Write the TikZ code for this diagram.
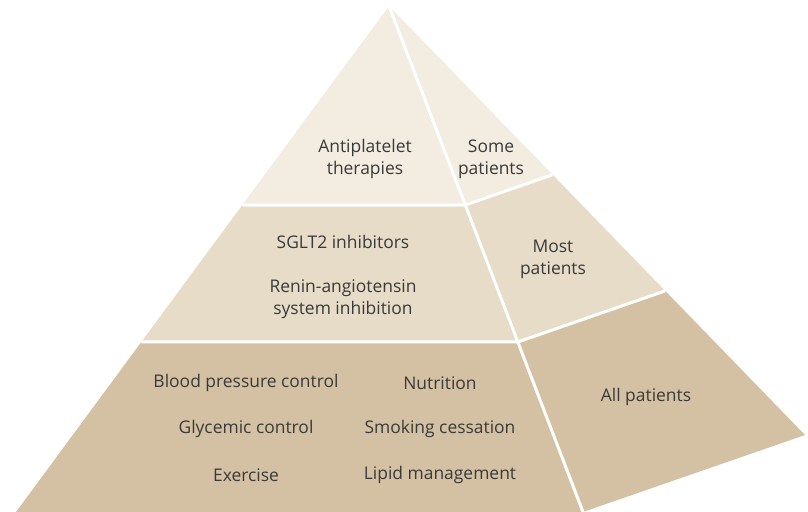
\documentclass[tikz,border=0pt]{standalone}
\usepackage{fontspec}
\setmainfont{Open Sans}
\usetikzlibrary{calc}
\definecolor{tiertop}{HTML}{F2ECE1}
\definecolor{tiermid}{HTML}{E6DCC8}
\definecolor{tierlow}{HTML}{D4C1A3}
\definecolor{txt}{HTML}{3A3A3A}
\begin{document}
\begin{tikzpicture}[x=1bp, y=-1bp, every node/.style={text=txt, align=center, font=\fontsize{17.5}{22}\selectfont}, gap/.style={white, line width=3bp, line join=round}]
\useasboundingbox (0,0) rectangle (808,512);
\coordinate (apex) at (389,6); \coordinate (bl) at (16,512); \coordinate (br) at (583,512); \coordinate (bs) at (805,435);
\coordinate (l1) at ($(apex)!0.3933!(bl)$); \coordinate (r1) at ($(apex)!0.3933!(br)$); \coordinate (s1) at ($(apex)!0.3933!(bs)$);
\coordinate (l2) at ($(apex)!0.664!(bl)$); \coordinate (r2) at ($(apex)!0.664!(br)$); \coordinate (s2) at ($(apex)!0.664!(bs)$);
% tiers, front and side
\fill[tiertop] (apex) -- (l1) -- (r1) -- (s1) -- cycle;
\fill[tiermid] (l1) -- (l2) -- (r2) -- (s2) -- (s1) -- (r1) -- cycle;
\fill[tierlow] (l2) -- (bl) -- (br) -- (bs) -- (s2) -- (r2) -- cycle;
\draw[gap] (l1) -- (r1) -- (s1); \draw[gap] (l2) -- (r2) -- (s2);
\draw[gap] (apex) -- (br);
% labels
\node (anti) at (365,159) {Antiplatelet\\therapies}; \node (some) at (491,159) {Some\\patients};
\node (sglt) at (343,242) {SGLT2 inhibitors}; \node (renin) at (343,299) {Renin-angiotensin\\system inhibition};
\node (most) at (553,259) {Most\\patients};
\node (bp) at (246,383) {Blood pressure control}; \node (nutr) at (440,383) {Nutrition};
\node (glyc) at (246,429) {Glycemic control}; \node (smok) at (440,429) {Smoking cessation};
\node (exer) at (246,475) {Exercise}; \node (lipid) at (440,475) {Lipid management};
\node (all) at (646,397) {All patients};
\end{tikzpicture}
\end{document}
